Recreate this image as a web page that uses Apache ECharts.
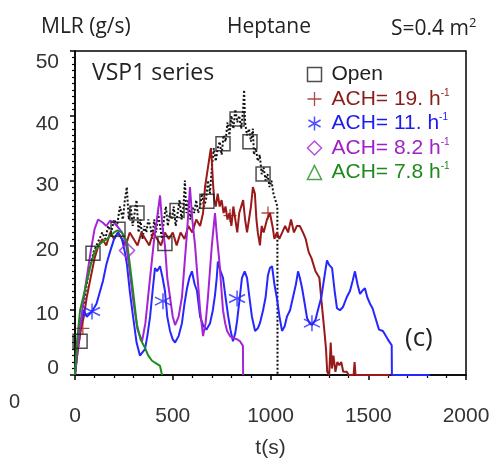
<!DOCTYPE html>
<html><head><meta charset="utf-8">
<script src="https://cdn.jsdelivr.net/npm/echarts@6/dist/echarts.min.js"></script>
<style>html,body{margin:0;padding:0;background:#fff}#c{width:493px;height:464px}</style>
</head><body><div id="c"></div>
<script>
// ---- data (t in s, MLR in g/s) ----
const xTicks = [0, 500, 1000, 1500, 2000];
const yTicks = [0, 10, 20, 30, 40, 50];
const seriesNames = ['Open', 'ACH= 19. h-1', 'ACH= 11. h-1', 'ACH= 8.2 h-1', 'ACH= 7.8 h-1'];

const openLine = [[0,0],[10,3],[20,5],[35,9],[50,12],[65,15],[80,17],[95,19],[110,20],[125,21],[140,22],[155,21],[170,23],[185,22],[200,24],[215,23],[230,26],[245,24],[255,27],[265,29],[275,24],[285,26],[295,23],[305,25],[315,27],[325,22],[335,24],[345,21],[355,23],[365,22],[375,24],[385,23],[395,21],[405,24],[415,22],[425,25],[435,23],[445,21],[455,24],[465,26],[475,23],[485,25],[495,24],[505,26],[515,23],[525,25],[535,27],[545,24],[555,26],[562,30],[570,25],[580,27],[590,24],[600,26],[610,25],[620,27],[630,25],[640,26],[650,28],[660,26],[670,27],[680,30],[690,28],[700,32],[710,35],[720,33],[730,35],[740,36],[750,34],[760,37],[770,36],[780,39],[790,37],[800,40],[810,38],[820,41],[830,39],[840,40],[850,38],[860,41],[865,44],[870,39],[880,37],[890,38],[900,36],[910,38],[915,34],[925,35],[935,33],[945,34],[955,31],[965,32],[975,30],[985,31],[995,29],[1005,30],[1015,28],[1025,27],[1035,26],[1036,0]];
const openMarks = [[26,5.2],[92,18.8],[220,22.5],[317,25],[460,20.3],[522,25.4],[675,26.8],[757,35.7],[829,39.5],[895,36],[962,31]];

const ach19Line = [[0,0],[15,4],[30,7],[45,9],[60,12],[80,15],[100,18],[120,20],[140,21],[160,20],[180,22],[200,21],[220,22],[240,21],[260,20],[280,22],[300,21],[320,20],[340,22],[360,21],[380,20],[400,22],[420,21],[440,20],[460,22],[480,21],[500,22],[520,20],[540,22],[560,21],[580,23],[600,22],[620,24],[640,23],[655,25],[665,29],[675,31],[685,33],[695,35],[700,33],[705,30],[712,27],[720,26],[730,28],[740,26],[750,27],[760,25],[770,26],[780,24],[790,25],[800,23],[810,26],[820,24],[830,22],[840,25],[850,26],[860,27],[870,24],[880,22],[890,24],[900,26],[910,29],[920,28],[928,24],[935,22],[946,20],[955,23],[965,22],[982,24],[997,25],[1010,23],[1020,21],[1033,22],[1045,21],[1060,22],[1075,23],[1090,22],[1105,24],[1120,22],[1135,23],[1150,23],[1166,22],[1180,21],[1195,19],[1210,18],[1230,16],[1250,15],[1262,11],[1275,7],[1284,4],[1290,0.5],[1300,0],[1308,5],[1314,1],[1322,3],[1332,0.5],[1342,2],[1352,1.5],[1362,2],[1372,0.5],[1390,0.5],[1400,0],[1425,0],[1430,2],[1435,0],[1610,0]];
const ach19Marks = [[40,7.2],[793,24.6],[987,25]];

const ach11Line = [[0,0],[10,4],[26,7.7],[45,10],[60,9],[87,9.8],[110,11],[143,14.5],[160,17],[179,19],[200,21],[220,22],[240,21],[255,19],[266,17],[280,13],[297,9],[315,5],[332,3],[345,3.5],[358,4],[370,6],[384,9],[397,13],[409,16.5],[420,16],[435,16.8],[448,15],[460,13],[472,9],[486,6.8],[500,5.5],[512,5],[530,6],[547,8],[560,11],[573,13.4],[585,15],[598,16],[612,14],[624,13],[640,9],[655,7.7],[672,7],[691,8],[705,10],[716,12.3],[725,15],[731,17.5],[745,16],[757,15],[770,12],[783,9.2],[795,7],[808,5.2],[820,6.5],[829,8.3],[843,12],[854,15],[868,16],[880,15],[892,12],[905,9],[921,6.8],[935,7.2],[946,8],[962,10],[975,12],[987,15.4],[997,16.5],[1008,16.8],[1020,14],[1033,11.8],[1046,9],[1059,6.8],[1072,7.5],[1084,9],[1100,10],[1115,12],[1130,14],[1141,16],[1150,15],[1161,13.5],[1175,11],[1187,8.8],[1200,8],[1212,7.7],[1230,8.5],[1245,10.3],[1260,12],[1269,13.8],[1280,16],[1289,17.7],[1300,17],[1315,16.5],[1328,13],[1340,10.3],[1355,10],[1371,10.5],[1390,12],[1407,13],[1420,14.5],[1432,16],[1445,14],[1458,12.5],[1470,13],[1483,13.4],[1495,12],[1509,11],[1522,10.3],[1535,9],[1555,7],[1575,6.8],[1600,5.5],[1620,4.6],[1621,0],[1815,0]];
const ach11Marks = [[87,9.8],[450,11.4],[829,11.8],[1212,8]];

const ach82Line = [[0,0],[20,6],[50,13],[80,19],[100,22.5],[118,24],[143,23.5],[160,23],[179,23.8],[200,23.5],[215,23],[240,22],[260,20.5],[280,16],[300,11],[320,7],[343,5.2],[360,8],[384,15],[405,21],[419,24],[435,27.7],[447,23],[460,20],[472,15],[486,12],[500,9],[512,7.7],[530,9],[547,12],[560,17],[573,22],[588,29],[600,24],[614,20],[627,15],[640,10],[655,6],[668,8],[680,12],[690,16],[700,20],[716,25],[727,21],[737,18],[747,14],[757,10],[768,8],[778,6.8],[793,6],[808,5.7],[830,5.5],[844,5.2],[859,4.5],[860,0]];
const ach82Marks = [[266,19.2]];

const ach78Line = [[0,0],[10,5],[26,10],[50,13],[80,17],[100,19],[120,20],[143,20.6],[165,21],[180,21.5],[200,22],[215,22.3],[240,22],[266,20.6],[291,14.5],[317,7.7],[335,5.5],[358,4.2],[375,3],[394,2.2],[415,1.8],[435,1.4],[445,0]];
const ach78Marks = [];

// ---- chart ----
const C = {open:'#111111', r:'#9a1a1a', b:'#2626ff', p:'#a424d6', g:'#1f8c1f'};
const T = {r:'#8b1c1c', b:'#1c1cf0', p:'#a020c4', g:'#1e8a1e'};
const chart = echarts.init(document.getElementById('c'), null, {renderer:'canvas'});
const lineBase = {type:'line', showSymbol:false, animation:false, silent:true};
const markBase = {type:'scatter', animation:false, silent:true, z:5};
const asterisk = 'path://M5,0L5,10M0.67,2.5L9.33,7.5M0.67,7.5L9.33,2.5';
const plus = 'path://M5,0L5,10M0,5L10,5';
// vertical nudges of the y tick labels as drawn in the reference
const yLabelPad = {0:[0,0,14,0], 10:[8,0,0,0], 20:[10,0,0,0], 30:[10,0,0,0], 40:[16,0,0,0], 50:[22,0,0,0]};
const yRich = {};
yTicks.forEach(function(v){ yRich['y'+v] = {fontFamily:'Liberation Sans', fontSize:21, color:'#333', padding:yLabelPad[v]}; });

chart.setOption({
  animation:false,
  grid:{left:75, right:27, top:51, bottom:87, show:true, borderColor:'#000', borderWidth:1.5, backgroundColor:'transparent'},
  title:[
    {text:'MLR (g/s)', left:36, top:12, textStyle:{fontFamily:'Open Sans', fontSize:21, fontWeight:'normal', color:'#222'}},
    {text:'Heptane', left:222, top:12, textStyle:{fontFamily:'Open Sans', fontSize:21, fontWeight:'normal', color:'#222'}},
    {text:'S=0.4 m{s|2}', left:386, top:12, textStyle:{fontFamily:'Open Sans', fontSize:21, fontWeight:'normal', color:'#222', rich:{s:{fontFamily:'Open Sans', fontSize:13, color:'#222', padding:[0,0,12,0]}}}},
    {text:'VSP1 series', left:87, top:57, textStyle:{fontFamily:'Open Sans', fontSize:23, fontWeight:'normal', color:'#222'}},
    {text:'(c)', left:400, top:321, textStyle:{fontFamily:'Open Sans', fontSize:26, fontWeight:'normal', color:'#222'}}
  ],
  graphic:[{type:'text', left:9, top:392, style:{text:'0', font:'20px "Liberation Sans"', fill:'#333'}}],
  legend:{
    orient:'vertical', left:300, top:59, itemWidth:14, itemHeight:14, itemGap:3,
    data:[
      {name:seriesNames[0], icon:'rect', itemStyle:{color:'none', borderColor:'#222', borderWidth:1.5}, textStyle:{color:'#222'}},
      {name:seriesNames[1], icon:plus, itemStyle:{color:'none', borderColor:C.r, borderWidth:1.3}, textStyle:{color:T.r}},
      {name:seriesNames[2], icon:asterisk, itemStyle:{color:'none', borderColor:C.b, borderWidth:1.5}, textStyle:{color:T.b}},
      {name:seriesNames[3], icon:'diamond', itemStyle:{color:'none', borderColor:C.p, borderWidth:1.5}, textStyle:{color:T.p}},
      {name:seriesNames[4], icon:'triangle', itemStyle:{color:'none', borderColor:C.g, borderWidth:1.5}, textStyle:{color:T.g}}
    ],
    formatter:function(n){ return n.endsWith(' h-1') ? n.slice(0,-4)+' h{s|-1}' : n; },
    textStyle:{fontFamily:'Liberation Sans', fontSize:21, lineHeight:20.5, padding:[0,0,0,5],
      rich:{s:{fontFamily:'Liberation Sans', fontSize:10, padding:[0,0,12,0]}}}
  },
  xAxis:{
    type:'value', min:0, max:2000, interval:500,
    name:'t(s)', nameLocation:'middle', nameGap:63,
    nameTextStyle:{fontFamily:'Liberation Sans', fontSize:21, color:'#333'},
    axisLine:{show:true, lineStyle:{color:'#000', width:1.5}},
    axisTick:{show:true, length:5, lineStyle:{color:'#000', width:1.5}},
    minorTick:{show:true, splitNumber:5, length:3, lineStyle:{color:'#000', width:1.2}},
    splitLine:{show:false},
    axisLabel:{margin:31, fontFamily:'Liberation Sans', fontSize:21, color:'#333',
      formatter:function(v){ return xTicks.indexOf(v)>=0 ? String(v) : ''; }}
  },
  yAxis:{
    type:'value', min:0, max:50, interval:10,
    axisLine:{show:true, lineStyle:{color:'#000', width:1.5}},
    axisTick:{show:true, length:5, lineStyle:{color:'#000', width:1.5}},
    minorTick:{show:true, splitNumber:10, length:3, lineStyle:{color:'#000', width:1.2}},
    splitLine:{show:false},
    axisLabel:{margin:16, fontFamily:'Liberation Sans', fontSize:21, color:'#333', rich:yRich,
      formatter:function(v){ return yTicks.indexOf(v)>=0 ? '{y'+v+'|'+v+'}' : ''; }}
  },
  series:[
    Object.assign({}, lineBase, {name:'open-line', data:openLine, lineStyle:{color:C.open, width:2, type:'dotted'}, z:2}),
    Object.assign({}, lineBase, {name:'ach19-line', data:ach19Line, lineStyle:{color:C.r, width:2}, z:3}),
    Object.assign({}, lineBase, {name:'ach11-line', data:ach11Line, lineStyle:{color:C.b, width:2}, z:3}),
    Object.assign({}, lineBase, {name:'ach82-line', data:ach82Line, lineStyle:{color:C.p, width:2}, z:3}),
    Object.assign({}, lineBase, {name:'ach78-line', data:ach78Line, lineStyle:{color:C.g, width:2}, z:4}),
    Object.assign({}, markBase, {name:seriesNames[0], data:openMarks, symbol:'rect', symbolSize:14, itemStyle:{color:'none', borderColor:'#222', borderWidth:1.5}}),
    Object.assign({}, markBase, {name:seriesNames[1], data:ach19Marks, symbol:plus, symbolSize:13, itemStyle:{color:'none', borderColor:C.r, borderWidth:1.3}}),
    Object.assign({}, markBase, {name:seriesNames[2], data:ach11Marks, symbol:asterisk, symbolSize:16, itemStyle:{color:'none', borderColor:C.b, borderWidth:1.5}}),
    Object.assign({}, markBase, {name:seriesNames[3], data:ach82Marks, symbol:'diamond', symbolSize:15, itemStyle:{color:'none', borderColor:C.p, borderWidth:1.5}}),
    Object.assign({}, markBase, {name:seriesNames[4], data:ach78Marks, symbol:'triangle', symbolSize:15, itemStyle:{color:'none', borderColor:C.g, borderWidth:1.5}})
  ]
});
</script></body></html>
